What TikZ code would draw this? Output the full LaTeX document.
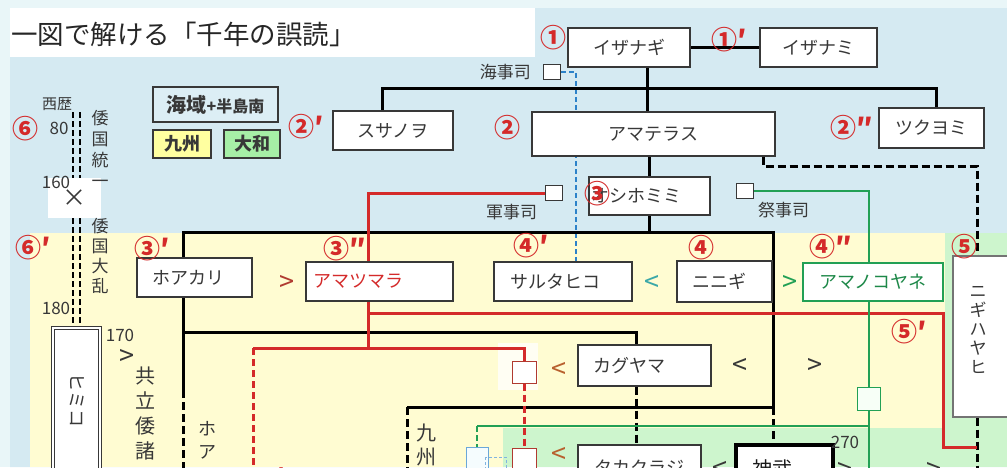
\documentclass[tikz,border=0pt]{standalone}
\usepackage{fontspec}
\setmainfont{Noto Sans CJK JP}
\pgfdeclarelayer{back}
\pgfsetlayers{back,main}
\definecolor{outerbg}{HTML}{E9F6F8}
\definecolor{bluebg}{HTML}{D5EAF2}
\definecolor{yellowbg}{HTML}{FFFCD2}
\definecolor{greenbg}{HTML}{CDF5CD}
\definecolor{legblue}{HTML}{DCEEF5}
\definecolor{legyellow}{HTML}{FFFFA0}
\definecolor{leggreen}{HTML}{A6EFA6}
\definecolor{myred}{HTML}{D42A2A}
\definecolor{darkred}{HTML}{B03A30}
\definecolor{mygreen}{HTML}{22A055}
\definecolor{myblue}{HTML}{2C82C9}
\definecolor{myteal}{HTML}{3AA8A8}
\definecolor{mybrown}{HTML}{B8602E}
\definecolor{txt}{HTML}{383838}
\begin{document}
\begin{tikzpicture}[x=1pt,y=-1pt,
  box/.style={draw=txt, line width=1.2pt, fill=white, inner sep=0pt, text=txt, font=\fontsize{18}{20}\selectfont},
  sbox/.style={draw=txt, line width=1pt, fill=white, inner sep=0pt, minimum width=17, minimum height=15},
  num/.style={text=myred, font=\bfseries\fontsize{26}{26}\selectfont, inner sep=0pt, anchor=west},
  lbl/.style={text=txt, font=\fontsize{17}{17}\selectfont, inner sep=0pt},
  yr/.style={text=txt, font=\fontsize{17}{17}\selectfont, inner sep=0pt},
  cmp/.style={font=\fontsize{27}{27}\selectfont, inner sep=0pt},
  vtext/.style={text=txt, inner sep=0pt, align=center},
  kin/.style={draw=black, line width=3pt},
  kindash/.style={kin, dash pattern=on 8pt off 4pt},
  tl/.style={draw=black, line width=2.6pt, dash pattern=on 6pt off 3pt},
  redl/.style={draw=myred, line width=3pt},
  reddash/.style={redl, dash pattern=on 7pt off 4pt},
  greenl/.style={draw=mygreen, line width=2.8pt},
]
\useasboundingbox (0,0) rectangle (1007,467);
\clip (0,0) rectangle (1007,467);
% ---------- backgrounds
\begin{pgfonlayer}{back}
\fill[outerbg] (0,0) rectangle (1007,467);
\fill[bluebg] (10,57) -- (535,57) -- (535,8) -- (1007,8) -- (1007,467) -- (10,467) -- cycle;
\fill[white] (10,8) rectangle (535,57);
\fill[yellowbg] (30,233) rectangle (945,467);
\fill[greenbg] (945,233) rectangle (1007,467);
\fill[greenbg] (503,428) rectangle (945,467);
\fill[white, opacity=0.75] (498,343) rectangle (538,390);
\end{pgfonlayer}

% ---------- title and legend
\node[anchor=west, inner sep=0pt, font=\fontsize{26.5}{27}\selectfont, text=black!85] (title) at (11,34) {一図で解ける「千年の誤読」};
\node[box, fill=legblue, minimum width=125, minimum height=35, font=\bfseries\fontsize{20}{20}\selectfont] (legsea) at (215.5,104.5) {海域{\fontsize{16}{16}\selectfont+半島南}};
\node[box, fill=legyellow, minimum width=58, minimum height=28, font=\bfseries\fontsize{18}{18}\selectfont] (legkyushu) at (182,144) {九州};
\node[box, fill=leggreen, minimum width=56, minimum height=28, font=\bfseries\fontsize{18}{18}\selectfont] (legyamato) at (252,144) {大和};

% ---------- main boxes
\node[box, minimum width=122, minimum height=39] (izanagi) at (629,47.5) {イザナギ};
\node[box, minimum width=117, minimum height=39] (izanami) at (818.5,47.5) {イザナミ};
\node[box, minimum width=120, minimum height=39] (susanowo) at (393,130.5) {スサノヲ};
\node[box, minimum width=243, minimum height=44] (amaterasu) at (653.5,134) {アマテラス};
\node[box, minimum width=105, minimum height=40] (tsukuyomi) at (931.5,128) {ツクヨミ};
\node[box, minimum height=38, text width=117, inner xsep=2, align=left] (oshihomimi) at (649.5,196) {オシホミミ};
\node[box, minimum height=39, text width=85, inner xsep=15, align=left] (hoakari) at (194.5,277.5) {ホアカリ};
\node[box, minimum height=39, text width=133, inner xsep=7, align=left, text=myred] (amatsumara) at (379.5,281.5) {アマツマラ};
\node[box, minimum height=39, text width=106, inner xsep=16, align=left] (sarutahiko) at (563,281.5) {サルタヒコ};
\node[box, minimum height=41, text width=65, inner xsep=15, align=left] (ninigi) at (724.5,281.5) {ニニギ};
\node[box, draw=mygreen, text=mygreen!85!black, minimum width=140, minimum height=38] (amanokoyane) at (873,282) {アマノコヤネ};
\node[box, draw=txt!70, minimum width=60, minimum height=161] (nigihayahi) at (983,336.5) {};
\node[vtext, font=\fontsize{17}{19}\selectfont] (nigitext) at (978,330) {ニ\\ギ\\ハ\\ヤ\\ヒ};
\node[box, minimum height=41, text width=103, inner xsep=15, align=left] (kaguyama) at (644.5,365.5) {カグヤマ};
\node[box, minimum width=123, minimum height=45] (takakuraji) at (639.5,467.5) {タカクラジ};
\node[box, draw=black, line width=3.5pt, minimum width=97, minimum height=55] (jinmu) at (784.5,472.5) {};
\node[text=black!90, inner sep=0pt, font=\fontsize{20}{20}\selectfont] (jinmutext) at (772,469) {神武};
\node[box, double, double distance=2.2pt, line width=1.2pt, minimum width=47, minimum height=160] (himiko) at (76.5,408) {};
\node[text=txt, inner sep=0pt, rotate=-90, font=\fontsize{18}{18}\selectfont] (himikotext) at (77,400) {ヒミコ};
\node[fill=white, minimum width=53, minimum height=40, inner sep=0pt, font=\fontsize{24}{24}\selectfont, text=txt] (xbox) at (74,198) {×};

% ---------- small boxes
\node[sbox] (kaiji) at (552,72) {};
\node[sbox] (gunji) at (553.5,193) {};
\node[sbox] (saiji) at (744.5,191) {};
\node[sbox, draw=darkred, minimum width=24, minimum height=22] (redbox1) at (524,372) {};
\node[sbox, draw=darkred, minimum width=24, minimum height=28] (redbox2) at (524,462) {};
\node[sbox, draw=mygreen, fill=green!3, minimum width=23, minimum height=23] (greenbox) at (869,398.5) {};
\node[sbox, draw=myblue!70, fill=cyan!4, minimum width=22, minimum height=28] (cyanbox) at (477,461) {};
\draw[myblue!60, line width=1pt, dash pattern=on 3pt off 2pt] (485,457) rectangle (506,482);

% ---------- connectors (behind boxes)
\begin{pgfonlayer}{back}
\coordinate (kb1) at (576,72);
\draw[line width=2pt, myblue, dash pattern=on 5pt off 3pt] (kaiji.east) -- (kb1) -- (kb1 |- sarutahiko.north);
\draw[kin] (izanagi.east) -- (izanami.west);
\coordinate (t1) at (647,88);
\coordinate (t1L) at (382,88);
\coordinate (t1R) at (936,88);
\draw[kin] (izanagi.south -| t1) -- (amaterasu.north -| t1);
\draw[kin] (susanowo.north -| t1L) -- (t1L) -- (t1R) -- (tsukuyomi.north -| t1R);
\coordinate (t2) at (649,0);
\coordinate (t3L) at (183,232);
\coordinate (t3R) at (773,232);
\coordinate (t4L) at (407,407);
\coordinate (t4R) at (773,407);
\coordinate (kyushuend) at (407,470);
\draw[kin] (amaterasu.south -| t2) -- (oshihomimi.north -| t2);
\draw[kin] (oshihomimi.south -| t2) -- (t2 |- t3L);
\draw[kin] (hoakari.north -| t3L) -- (t3L) -- (t3R) -- (t4R) -- (t4L);
\draw[kindash] (t4R) -- (jinmu.north -| t4R);
\draw[kindash] (t4L) -- (kyushuend);
\coordinate (t5) at (183,332);
\coordinate (t5R) at (636,332);
\coordinate (t6) at (183,390);
\coordinate (hoakariend) at (183,470);
\draw[kin] (hoakari.south -| t5) -- (t6);
\draw[kindash] (t6) -- (hoakariend);
\draw[kin] (t5) -- (t5R) -- (kaguyama.north -| t5R);
\draw[kindash] (kaguyama.south -| t5R) -- (takakuraji.north -| t5R);
\coordinate (d1) at (763,166);
\coordinate (d2) at (977,166);
\coordinate (nigiend) at (977,470);
\draw[kindash] (amaterasu.south -| d1) -- (d1) -- (d2) -- (nigihayahi.north -| d2);
\draw[kindash] (nigihayahi.south -| d2) -- (nigiend);
% red
\coordinate (r1) at (368,193);
\coordinate (r2) at (368,348);
\coordinate (r2L) at (253,348);
\coordinate (r2R) at (524,348);
\coordinate (r3) at (368,313);
\coordinate (r3R) at (943,313);
\coordinate (r4) at (943,447);
\coordinate (redend) at (253,470);
\draw[redl] (gunji.west) -- (r1) -- (amatsumara.north -| r1);
\draw[redl] (amatsumara.south -| r1) -- (r2);
\draw[redl] (r3) -- (r3R) -- (r4) -- (r4 -| d2);
\draw[redl] (r2L) -- (r2R) -- (redbox1.north);
\draw[reddash] (r2L) -- (redend);
\draw[reddash] (redbox1.south) -- (redbox2.north);
% green
\coordinate (g1) at (869,191);
\coordinate (greenend) at (869,470);
\coordinate (g2L) at (477,426);
\coordinate (g2R) at (869,426);
\draw[greenl] (saiji.east) -- (g1) -- (greenend);
\draw[greenl] (g2L) -- (g2R);
\draw[greenl, dash pattern=on 6pt off 3pt] (g2L) -- (cyanbox.north);
% timeline
\coordinate (tlA) at (73,112);
\coordinate (tlB) at (80,112);
\draw[tl] (tlA) -- (tlA |- xbox.north);
\draw[tl] (tlB) -- (tlB |- xbox.north);
\draw[tl] (tlA |- xbox.south) -- (tlA |- himiko.north);
\draw[tl] (tlB |- xbox.south) -- (tlB |- himiko.north);
\end{pgfonlayer}

% ---------- small labels
\node[lbl, anchor=east] (kaijilbl) at (531,72) {海事司};
\node[lbl] (gunjilbl) at (511.5,212) {軍事司};
\node[lbl] (saijilbl) at (783.5,210) {祭事司};
\node[lbl, font=\fontsize{15}{15}\selectfont] (seireki) at (57,104) {西歴};
\node[yr] (y80) at (59,128) {80};
\node[yr] (y160) at (56,182) {160};
\node[yr] (y180) at (56,308) {180};
\node[yr] (y170) at (120,335) {170};
\node[yr] (y270) at (845,442) {270};
\node[vtext, font=\fontsize{17}{21}\selectfont] (wtoitsu) at (100,149) {倭\\国\\統\\一};
\node[vtext, font=\fontsize{17}{20}\selectfont] (wtairan) at (100,256) {倭\\国\\大\\乱};
\node[vtext, font=\fontsize{20}{25}\selectfont] (kyoritsu) at (145,414) {共\\立\\倭\\諸};
\node[vtext, font=\fontsize{18}{23}\selectfont] (hoavert) at (207,440.5) {ホ\\ア};
\node[vtext, font=\fontsize{20}{24}\selectfont] (kyushuvert) at (426,445) {九\\州};
\node[text=myred, inner sep=0pt, font=\bfseries\fontsize{22}{22}\selectfont] (redcross) at (281,478) {十};

% ---------- comparison signs
\node[cmp, text=darkred] (c1) at (287,283) {>};
\node[cmp, text=myteal] (c2) at (652,283) {<};
\node[cmp, text=mygreen] (c3) at (790,283) {>};
\node[cmp, text=mybrown] (c4) at (559,370) {<};
\node[cmp, text=txt] (c5) at (740,366) {<};
\node[cmp, text=txt] (c6) at (815,366) {>};
\node[cmp, text=mybrown] (c7) at (559,455) {<};
\node[cmp, text=txt] (c8) at (720,469) {<};
\node[cmp, text=txt] (c9) at (845,470) {>};
\node[cmp, text=txt] (c10) at (934,470) {>};
\node[cmp, text=txt] (c11) at (127,357) {>};

% ---------- circled numbers
\node[num] (n1) at (540,38) {①};
\node[num] (n1p) at (711,40) {①′};
\node[num] (n2p) at (288,127) {②′};
\node[num] (n2) at (494,128) {②};
\node[num] (n2pp) at (830,128) {②″};
\node[num] (n3p) at (134,249) {③′};
\node[num] (n3pp) at (323,249) {③″};
\node[num] (n3) at (584,194) {③};
\node[num] (n4p) at (513,246) {④′};
\node[num] (n4) at (688,248) {④};
\node[num] (n4pp) at (809,247) {④″};
\node[num] (n5) at (951,247) {⑤};
\node[num] (n5p) at (891,332) {⑤′};
\node[num] (n6) at (12,129) {⑥};
\node[num] (n6p) at (15,248) {⑥′};
\end{tikzpicture}
\end{document}
